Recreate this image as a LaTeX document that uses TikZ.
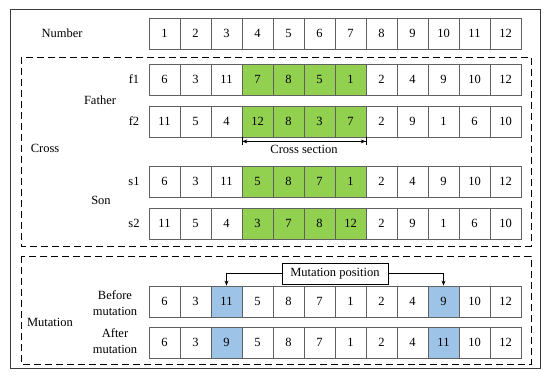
\documentclass[tikz,border=0pt]{standalone}
\usepackage{fontspec}
\setmainfont{Liberation Serif}
\usetikzlibrary{arrows.meta, positioning, calc}
\definecolor{crossgreen}{RGB}{146,208,80}
\definecolor{mutblue}{RGB}{157,195,230}
\definecolor{cellgray}{RGB}{96,96,96}

% one row of twelve gene cells: name, y, value/style list
\newcommand{\generow}[3]{%
  \foreach \v/\c [count=\i] in {#3}
    \node[cell, \c] (#1-\i) at ({133.5+31*\i}, #2) {\v};
}

\begin{document}
\begin{tikzpicture}[
    x=1pt, y=-1pt,
    font=\fontsize{12.5}{15.5}\selectfont,
    cell/.style={rectangle, draw=cellgray, line width=0.8pt, fill=white, minimum width=31pt, minimum height=31pt, inner sep=0pt},
    keep/.style={},
    cut/.style={fill=crossgreen},
    mut/.style={fill=mutblue},
    group/.style={draw, dash pattern=on 7pt off 4pt, line width=0.9pt},
    arrow/.style={-{Stealth[length=5pt, width=4pt]}, line width=0.7pt}
]
\useasboundingbox (0,0) rectangle (550,382);

\draw[line width=1pt, cellgray!60!black] (10,10) rectangle (540,369);
\draw[group] (21,57) rectangle (531,246);
\draw[group] (21,256) rectangle (531,364);

% gene rows
\generow{num}{33.5}{1/keep,2/keep,3/keep,4/keep,5/keep,6/keep,7/keep,8/keep,9/keep,10/keep,11/keep,12/keep}
\generow{f1}{79.5}{6/keep,3/keep,11/keep,7/cut,8/cut,5/cut,1/cut,2/keep,4/keep,9/keep,10/keep,12/keep}
\generow{f2}{121.5}{11/keep,5/keep,4/keep,12/cut,8/cut,3/cut,7/cut,2/keep,9/keep,1/keep,6/keep,10/keep}
\generow{s1}{181.5}{6/keep,3/keep,11/keep,5/cut,8/cut,7/cut,1/cut,2/keep,4/keep,9/keep,10/keep,12/keep}
\generow{s2}{223.5}{11/keep,5/keep,4/keep,3/cut,7/cut,8/cut,12/cut,2/keep,9/keep,1/keep,6/keep,10/keep}
\generow{bm}{301.5}{6/keep,3/keep,11/mut,5/keep,8/keep,7/keep,1/keep,2/keep,4/keep,9/mut,10/keep,12/keep}
\generow{am}{342.5}{6/keep,3/keep,9/mut,5/keep,8/keep,7/keep,1/keep,2/keep,4/keep,11/mut,10/keep,12/keep}

% labels
\node (number) at (62,33) {Number};
\node (cross) at (45,148) {Cross};
\node (father) at (100,100) {Father};
\node (son) at (101,200) {Son};
\node (lf1) at (134,79.5) {f1};
\node (lf2) at (134,121.5) {f2};
\node (ls1) at (134,181.5) {s1};
\node (ls2) at (134,223.5) {s2};
\node (mutation) at (50,322) {Mutation};
\node[align=center] (before) at (115,303) {Before\\mutation};
\node[align=center] (after) at (115,341) {After\\mutation};

% cross section
\coordinate (csl) at ($(f2-4.south west)+(0,4)$);
\coordinate (csr) at ($(f2-7.south east)+(0,4)$);
\draw[{Bar[width=8pt]Stealth[length=5pt, width=4pt]}-{Stealth[length=5pt, width=4pt]Bar[width=8pt]}, line width=0.7pt]
    (csl) -- node[below=0pt] (cstext) {Cross section} (csr);

% mutation position
\node[draw, line width=0.7pt, fill=white, minimum width=106pt, minimum height=21pt, inner sep=2pt] (mutpos) at (335,273.5) {Mutation position};
\draw[arrow] (mutpos.west) -| (bm-3.north);
\draw[arrow] (mutpos.east) -| (bm-10.north);

\end{tikzpicture}
\end{document}
